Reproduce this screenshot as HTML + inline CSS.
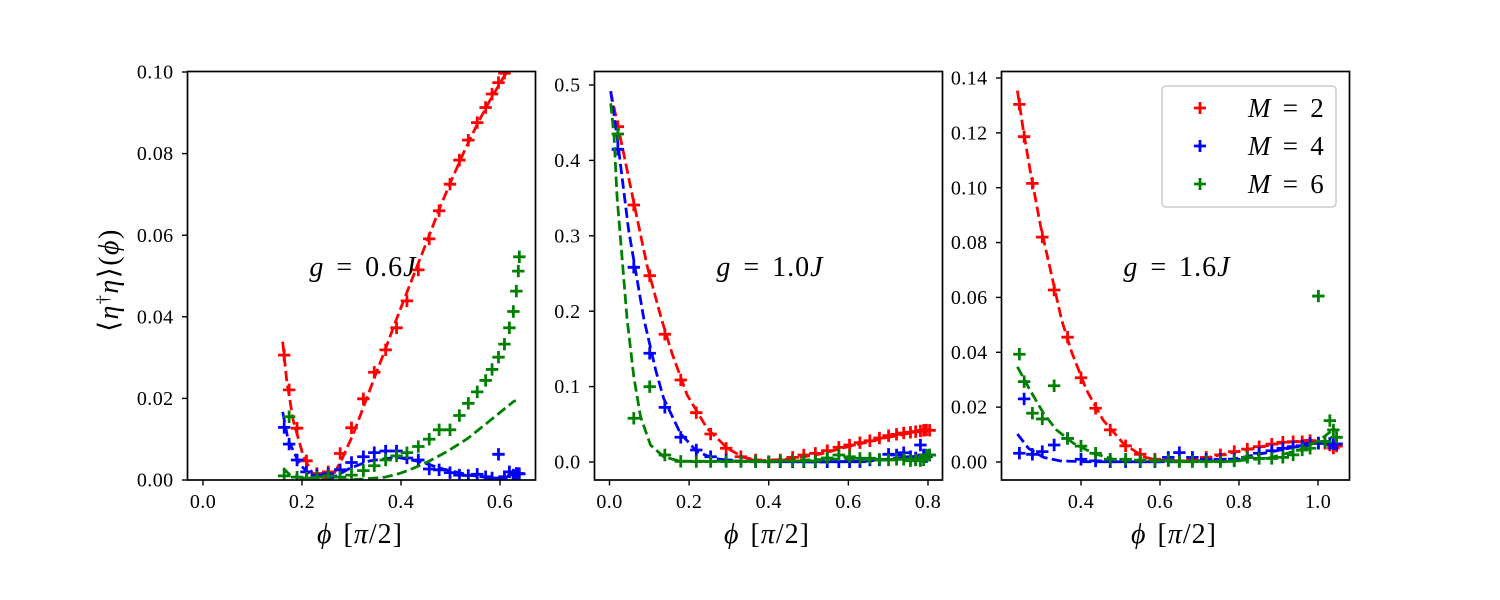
<!DOCTYPE html>
<html lang="en">
<head>
<meta charset="utf-8">
<title>Order parameter vs phi</title>
<style>
html,body{margin:0;padding:0;background:#fff;width:1500px;height:600px;overflow:hidden}
svg{display:block}
text{font-family:"Liberation Serif","DejaVu Serif",serif;fill:#000}
.tick-label{font-size:20px;letter-spacing:.4px}
.axis-title{font-size:28px;letter-spacing:1px;word-spacing:3px}
.y-title{font-size:28px;letter-spacing:1.5px}
.annot{font-size:28px;letter-spacing:1px;word-spacing:4px}
.legend-text{font-size:27px;letter-spacing:1px;word-spacing:3.5px}
</style>
</head>
<body>
<svg id="chart" width="1500" height="600" viewBox="0 0 1500 600" xmlns="http://www.w3.org/2000/svg">
<defs>
<clipPath id="clip-0"><rect x="187.5" y="71.5" width="348" height="408.5"/></clipPath>
<clipPath id="clip-1"><rect x="594.5" y="71.5" width="348" height="408.5"/></clipPath>
<clipPath id="clip-2"><rect x="1001.5" y="71.5" width="348" height="408.5"/></clipPath>
</defs>
<g id="panel-0"></g>
<g id="panel-1"></g>
<g id="panel-2"></g>

<text class="y-title" transform="translate(118,280) rotate(-90)" text-anchor="middle">⟨<tspan font-style="italic">η</tspan><tspan dy="-9" font-size="18">†</tspan><tspan dy="9" font-style="italic">η</tspan>⟩(<tspan font-style="italic">ϕ</tspan>)</text>

<text class="axis-title" x="360" y="543" text-anchor="middle"><tspan font-style="italic">ϕ</tspan> [<tspan font-style="italic">π</tspan>/2]</text>
<text class="axis-title" x="767" y="543" text-anchor="middle"><tspan font-style="italic">ϕ</tspan> [<tspan font-style="italic">π</tspan>/2]</text>
<text class="axis-title" x="1174" y="543" text-anchor="middle"><tspan font-style="italic">ϕ</tspan> [<tspan font-style="italic">π</tspan>/2]</text>

<text class="annot" x="363" y="276" text-anchor="middle"><tspan font-style="italic">g</tspan> = 0.6<tspan font-style="italic">J</tspan></text>
<text class="annot" x="770" y="276" text-anchor="middle"><tspan font-style="italic">g</tspan> = 1.0<tspan font-style="italic">J</tspan></text>
<text class="annot" x="1177" y="276" text-anchor="middle"><tspan font-style="italic">g</tspan> = 1.6<tspan font-style="italic">J</tspan></text>

<g>
<rect x="1162" y="86" width="174" height="121" rx="4" ry="4" fill="#fff" fill-opacity="0.8" stroke="#ccc" stroke-width="1.5"/>
<path d="M1194 108H1206M1200 102V114" stroke="#f00" stroke-width="2.78" fill="none"/>
<text class="legend-text" x="1248" y="117"><tspan font-style="italic">M</tspan> = 2</text>
<path d="M1194 146H1206M1200 140V152" stroke="#00f" stroke-width="2.78" fill="none"/>
<text class="legend-text" x="1248" y="155"><tspan font-style="italic">M</tspan> = 4</text>
<path d="M1194 184H1206M1200 178V190" stroke="#008000" stroke-width="2.78" fill="none"/>
<text class="legend-text" x="1248" y="193"><tspan font-style="italic">M</tspan> = 6</text>
</g>
</svg>
<script>
// ---------- Panel g = 0.6J ----------
const p0XTicks = [0.0, 0.2, 0.4, 0.6];
const p0YTicks = [0.00, 0.02, 0.04, 0.06, 0.08, 0.10];
const p0Phi = [.164,.174,.190,.209,.230,.253,.277,.300,.324,.346,.369,.391,.412,.435,.457,.477,.499,.518,.536,.554,.571,.584,.597,.609,.619,.627,.633,.637,.639];
const p0RedPts = [.0306,.0221,.0127,.0047,.0016,.0020,.0065,.0128,.0199,.0264,.0319,.0373,.0439,.0515,.0591,.0660,.0725,.0784,.0833,.0876,.0913,.0946,.0974,.0997,.102,.104,.105,.106,.1065];
const p0BluePts = [.0129,.0088,.0049,.0020,.0012,.0015,.0025,.0043,.0057,.0067,.0071,.0071,.0054,.0049,.0027,.0025,.0018,.0012,.0011,.0014,.0008,.0005,.0063,.0008,.0020,.0012,.0016,.0016,.0015];
const p0GreenPts = [.0010,.0155,.0007,.0005,.0007,.0010,.0007,.0012,.0023,.0035,.0049,.0059,.0067,.0082,.0100,.0123,.0123,.0158,.0188,.0216,.0244,.0271,.0301,.0333,.0373,.0413,.0463,.0512,.0547];
const p0RedLineX = [.161,.169,.182,.203,.223,.242,.263,.280,.304,.327,.347,.368,.388,.402,.428,.455,.479,.503,.529,.556,.580,.606,.620];
const p0RedLineY = [.0339,.0245,.0147,.0057,.0012,.0002,.0012,.0049,.0114,.0188,.0253,.0319,.0385,.0429,.0510,.0593,.0669,.0738,.0809,.0877,.0931,.0985,.1010];
const p0BlueLineX = [.161,.172,.196,.222,.263,.297,.337,.391,.438,.485,.539,.593,.620,.640];
const p0BlueLineY = [.0167,.0098,.0037,.0008,.0006,.0029,.0047,.0056,.0045,.0027,.0012,.0002,.0001,.0008];
const p0GreenLineX = [.162,.176,.206,.236,.287,.331,.368,.394,.418,.455,.492,.535,.573,.627,.632];
const p0GreenLineY = [.0029,.0012,.0003,0,0,.0003,.0007,.0015,.0025,.0045,.0069,.0102,.0139,.0192,.0195];

// ---------- Panel g = 1.0J ----------
const p1XTicks = [0.0, 0.2, 0.4, 0.6, 0.8];
const p1YTicks = [0.0, 0.1, 0.2, 0.3, 0.4, 0.5];
const p1Phi = [.021,.061,.101,.139,.179,.218,.254,.293,.330,.367,.400,.429,.460,.488,.517,.547,.576,.603,.629,.654,.678,.701,.721,.739,.756,.769,.781,.789,.796,.804];
const p1RedPts = [.4447,.3408,.2471,.1694,.1088,.0654,.0371,.0182,.0070,.0027,.0004,.0027,.0062,.0093,.0115,.0150,.0195,.0225,.0256,.0282,.0318,.0349,.0367,.0385,.0394,.0402,.0411,.0420,.0424,.0420];
const p1BluePts = [.4147,.2582,.1442,.0725,.0328,.0159,.0070,.0027,.0009,.0004,.0003,.0003,.0003,.0003,.0003,.0003,.0003,.0003,.0004,.0027,.0027,.0102,.0093,.0123,.0070,.0053,.0225,.0093,.0070,.0093];
const p1GreenPts = [.4350,.0580,.0999,.0093,.0009,.0006,.0006,.0006,.0006,.0006,.0006,.0013,.0013,.0013,.0013,.0053,.0093,.0070,.0049,.0049,.0036,.0027,.0036,.0036,.0017,.0027,.0017,.0027,.0093,.0093];
const p1RedLineX = [.003,.032,.064,.095,.130,.157,.195,.245,.296,.336,.379,.454,.530,.605,.680,.756,.801];
const p1RedLineY = [.4911,.4182,.3365,.2590,.1906,.1442,.0889,.0447,.0182,.0062,.0017,.0040,.0106,.0212,.0305,.0385,.0424];
const p1BlueLineX = [.003,.019,.048,.086,.116,.136,.178,.220,.261,.311,.379,.530,.655,.801];
const p1BlueLineY = [.4920,.4314,.3077,.1906,.1220,.0845,.0381,.0137,.0049,.0013,.0009,0,.0013,.0093];
const p1GreenLineX = [.003,.011,.019,.032,.044,.061,.078,.103,.136,.178,.396,.575,.680,.801];
const p1GreenLineY = [.4757,.4359,.3519,.2679,.1906,.1131,.0601,.0225,.0070,.0009,.0009,.0040,.0027,.0053];

// ---------- Panel g = 1.6J ----------
const p2XTicks = [0.4, 0.6, 0.8, 1.0];
const p2YTicks = [0.00, 0.02, 0.04, 0.06, 0.08, 0.10, 0.12, 0.14];
const p2Phi = [.244,.256,.277,.302,.332,.366,.400,.437,.474,.513,.550,.587,.621,.649,.682,.717,.753,.788,.821,.851,.883,.911,.937,.960,.980,1.001,1.018,1.030,1.039,1.047];
const p2RedPts = [.1304,.1186,.1016,.0820,.0627,.0455,.0307,.0196,.0117,.0059,.0028,.0010,.0007,.0004,.0007,.0017,.0026,.0038,.0047,.0056,.0065,.0072,.0074,.0074,.0078,.0070,.0068,.0062,.0051,.0058];
const p2BluePts = [.0032,.0230,.0028,.0038,.0062,.0086,.0010,.0004,.0001,.0001,.0001,.0001,.0017,.0034,.0017,.0010,.0010,.0010,.0017,.0032,.0041,.0050,.0056,.0059,.0068,.0068,.0074,.0068,.0066,.0066];
const p2GreenPts = [.0393,.0293,.0178,.0157,.0278,.0086,.0058,.0032,.0010,.0010,.0007,.0005,.0005,.0001,.0001,.0001,.0001,.0004,.0017,.0013,.0013,.0017,.0026,.0044,.0050,.0605,.0074,.0151,.0117,.0090];
const p2RedLineX = [.239,.254,.271,.298,.351,.376,.414,.456,.507,.558,.592,.651,.716,.803,.904,.980,1.030,1.046];
const p2RedLineY = [.1354,.1210,.1065,.0858,.0518,.0402,.0262,.0153,.0068,.0019,.0007,.0004,.0015,.0040,.0069,.0080,.0066,.0055];
const p2BlueLineX = [.239,.267,.305,.347,.414,.651,.787,.878,.954,1.005,1.046];
const p2BlueLineY = [.0102,.0050,.0017,.0004,.0001,.0001,.0011,.0036,.0058,.0073,.0066];
const p2GreenLineX = [.239,.271,.305,.338,.381,.431,.482,.558,.777,.878,.954,1.005,1.043];
const p2GreenLineY = [.0347,.0262,.0178,.0117,.0068,.0032,.0010,.0004,.0002,.0015,.0044,.0080,.0124];

const SVGNS = 'http://www.w3.org/2000/svg';
const RED = '#ff0000', BLUE = '#0000ff', GREEN = '#008000';

function make(tag, parent) {
  const el = document.createElementNS(SVGNS, tag);
  parent.appendChild(el);
  return el;
}

function linear(d0, d1, r0, r1) {
  return v => r0 + (v - d0) * (r1 - r0) / (d1 - d0);
}

function drawLine(g, xs, ys, sx, sy, color) {
  const el = make('polyline', g);
  
  
  el.setAttribute('points', xs.map((x, i) => sx(x).toFixed(2) + ',' + sy(ys[i]).toFixed(2)).join(' '));
  el.setAttribute('fill', 'none');
  el.setAttribute('stroke', color);
  el.setAttribute('stroke-width', '2.78');
  el.setAttribute('stroke-dasharray', '10.3 4.4');
}

function drawMarkers(g, xs, ys, sx, sy, color) {
  xs.forEach((x, i) => {
    const px = sx(x), py = sy(ys[i]);
    const el = make('path', g);
    
    
    el.setAttribute('d', 'M' + (px - 6.2).toFixed(2) + ' ' + py.toFixed(2) + 'H' + (px + 6.2).toFixed(2) + 'M' + px.toFixed(2) + ' ' + (py - 6.2).toFixed(2) + 'V' + (py + 6.2).toFixed(2));
    el.setAttribute('fill', 'none');
    el.setAttribute('stroke', color);
    el.setAttribute('stroke-width', '2.78');
  });
}

function drawPanel(idx, box, sx, sy, xTicks, yTicks, xDigits, yDigits, series) {
  const root = document.getElementById('panel-' + idx);
  const plot = make('g', root);
  
  
  plot.setAttribute('clip-path', 'url(#clip-' + idx + ')');
  series.forEach(s => {
    drawMarkers(plot, s.phi, s.pts, sx, sy, s.color);
    drawLine(plot, s.lineX, s.lineY, sx, sy, s.color);
  });

  const frame = make('rect', root);
  
  
  frame.setAttribute('x', box.x);
  frame.setAttribute('y', box.y);
  frame.setAttribute('width', box.w);
  frame.setAttribute('height', box.h);
  frame.setAttribute('fill', 'none');
  frame.setAttribute('stroke', '#000');
  frame.setAttribute('stroke-width', '1.7');

  xTicks.forEach(t => {
    const px = sx(t);
    const tick = make('line', root);
    
    
    tick.setAttribute('x1', px);
    tick.setAttribute('x2', px);
    tick.setAttribute('y1', box.y + box.h);
    tick.setAttribute('y2', box.y + box.h + 5.5);
    tick.setAttribute('stroke', '#000');
    tick.setAttribute('stroke-width', '1.4');
    const lab = make('text', root);
    
    
    lab.setAttribute('class', 'tick-label');
    lab.setAttribute('x', px);
    lab.setAttribute('y', 508);
    lab.setAttribute('text-anchor', 'middle');
    lab.textContent = t.toFixed(xDigits);
  });

  yTicks.forEach(t => {
    const py = sy(t);
    const tick = make('line', root);
    
    
    tick.setAttribute('x1', box.x);
    tick.setAttribute('x2', box.x - 5.5);
    tick.setAttribute('y1', py);
    tick.setAttribute('y2', py);
    tick.setAttribute('stroke', '#000');
    tick.setAttribute('stroke-width', '1.4');
    const lab = make('text', root);
    
    
    lab.setAttribute('class', 'tick-label');
    lab.setAttribute('x', box.x - 14);
    lab.setAttribute('y', py + 6.6);
    lab.setAttribute('text-anchor', 'end');
    lab.textContent = t.toFixed(yDigits);
  });
}

drawPanel(0, {x:187.5, y:71.5, w:348, h:408.5},
  linear(0, 0.6, 203, 500), linear(0, 0.1, 480, 72),
  p0XTicks, p0YTicks, 1, 2, [
    {color:RED, phi:p0Phi, pts:p0RedPts, lineX:p0RedLineX, lineY:p0RedLineY},
    {color:BLUE, phi:p0Phi, pts:p0BluePts, lineX:p0BlueLineX, lineY:p0BlueLineY},
    {color:GREEN, phi:p0Phi, pts:p0GreenPts, lineX:p0GreenLineX, lineY:p0GreenLineY}
  ]);

drawPanel(1, {x:594.5, y:71.5, w:348, h:408.5},
  linear(0, 0.8, 609.5, 928), linear(0, 0.5, 462, 85),
  p1XTicks, p1YTicks, 1, 1, [
    {color:RED, phi:p1Phi, pts:p1RedPts, lineX:p1RedLineX, lineY:p1RedLineY},
    {color:BLUE, phi:p1Phi, pts:p1BluePts, lineX:p1BlueLineX, lineY:p1BlueLineY},
    {color:GREEN, phi:p1Phi, pts:p1GreenPts, lineX:p1GreenLineX, lineY:p1GreenLineY}
  ]);

drawPanel(2, {x:1001.5, y:71.5, w:348, h:408.5},
  linear(0.4, 1.0, 1081, 1318), linear(0, 0.14, 462, 78),
  p2XTicks, p2YTicks, 1, 2, [
    {color:RED, phi:p2Phi, pts:p2RedPts, lineX:p2RedLineX, lineY:p2RedLineY},
    {color:BLUE, phi:p2Phi, pts:p2BluePts, lineX:p2BlueLineX, lineY:p2BlueLineY},
    {color:GREEN, phi:p2Phi, pts:p2GreenPts, lineX:p2GreenLineX, lineY:p2GreenLineY}
  ]);
</script>
</body>
</html>
